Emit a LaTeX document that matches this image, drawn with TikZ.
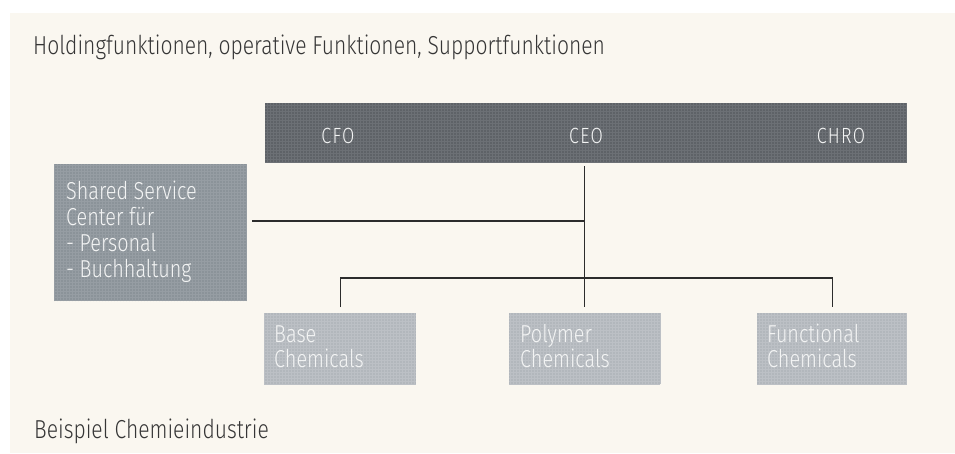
\documentclass[tikz,border=0pt]{standalone}
\usepackage{fontspec}
\setmainfont{Fira Sans}[UprightFont=* Light, FakeStretch=0.81]
\definecolor{cream}{HTML}{FAF7F0}
\definecolor{bardark}{HTML}{5E6267}
\definecolor{bargrid}{HTML}{6C7075}
\definecolor{sscgray}{HTML}{8B9399}
\definecolor{sscgrid}{HTML}{969DA3}
\definecolor{lowgray}{HTML}{B2B7BC}
\definecolor{lowgrid}{HTML}{BCC0C5}
\definecolor{titletext}{HTML}{363636}
\definecolor{boxtext}{HTML}{F3F4F4}
\definecolor{linecol}{HTML}{2C2C2C}
\begin{document}
\begin{tikzpicture}[x=1pt,y=-1pt,
  boxnode/.style={draw=none, inner sep=0pt, anchor=north west},
  lbl/.style={anchor=base west, inner sep=0pt, text=boxtext, align=left,
    font=\fontsize{24.5}{26}\selectfont},
  toplbl/.style={anchor=base, inner sep=0pt, text=boxtext,
    font=\fontsize{22}{26}\selectfont\addfontfeatures{LetterSpace=6}},
  caption/.style={anchor=base west, inner sep=0pt, text=titletext,
    font=\fontsize{26}{30}\selectfont},
  conn/.style={draw=linecol, line width=1.4pt},
  texture/.style={line width=0.6pt, step=3pt}]
\useasboundingbox (0,0) rectangle (955,453);
\fill[white] (0,0) rectangle (955,453);
\fill[cream] (10,13) rectangle (955,453);

\node[caption] (title) at (33,54) {Holdingfunktionen, operative Funktionen, Supportfunktionen};
\node[caption] (foot) at (34,438) {Beispiel Chemieindustrie};

% top bar
\node[boxnode, fill=bardark, minimum width=642pt, minimum height=59pt] (bar) at (265,103) {};
\draw[texture, bargrid] (bar.south west) grid (bar.north east);
\node[toplbl] (cfo) at (338,143) {CFO};
\node[toplbl] (ceo) at (586,143) {CEO};
\node[toplbl] (chro) at (841,143) {CHRO};

% shared service center
\node[boxnode, fill=sscgray, minimum width=193pt, minimum height=137pt] (ssc) at (54,164) {};
\draw[texture, sscgrid] (ssc.south west) grid (ssc.north east);
\node[lbl] (ssct) at (66,277) {Shared Service\\Center für\\- Personal\\- Buchhaltung};

% business units
\node[boxnode, fill=lowgray, minimum width=152pt, minimum height=71pt] (base) at (264,313) {};
\draw[texture, lowgrid] (base.south west) grid (base.north east);
\node[lbl, font=\fontsize{24.5}{25}\selectfont] (baset) at (274,367) {Base\\Chemicals};
\node[boxnode, fill=lowgray, minimum width=151pt, minimum height=71pt] (poly) at (509,313) {};
\draw[texture, lowgrid] (poly.south west) grid (poly.north east);
\node[lbl, font=\fontsize{24.5}{25}\selectfont] (polyt) at (520,367) {Polymer\\Chemicals};
\node[boxnode, fill=lowgray, minimum width=150pt, minimum height=71pt] (func) at (757,313) {};
\draw[texture, lowgrid] (func.south west) grid (func.north east);
\node[lbl, font=\fontsize{24.5}{25}\selectfont] (funct) at (767,367) {Functional\\Chemicals};

% connectors
\coordinate (sscj) at (584.5,221);
\coordinate (br) at (584.5,278);
\draw[conn] ([yshift=-4pt]bar.south -| poly.north) -- ([yshift=6pt]poly.north);
\draw[conn] ([xshift=5pt]ssc.east |- sscj) -- (sscj);
\draw[conn] ([yshift=6pt]base.north) -- (base.north |- br) -- (func.north |- br) -- ([yshift=6pt]func.north);
\end{tikzpicture}
\end{document}
